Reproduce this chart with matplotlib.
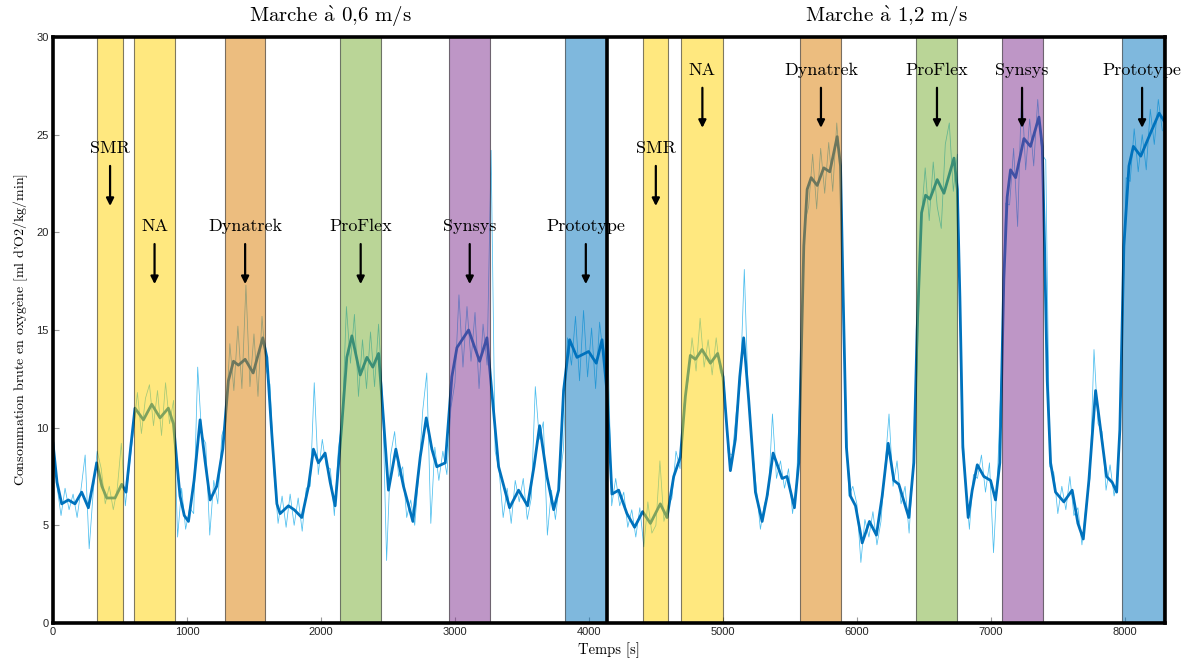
import numpy as np
import matplotlib
matplotlib.use("Agg")
import matplotlib.pyplot as plt

plt.rcParams["mathtext.fontset"] = "cm"

# ---------------- data ----------------
# smoothed VO2 curve (time s, value ml/kg/min)
t_smooth = [0, 30, 65, 114, 164, 214, 264, 300, 326, 365, 401, 463, 513, 545, 580,
            612, 675, 737, 799, 861, 899, 925, 948, 980, 1011, 1053, 1098, 1135, 1173,
            1222, 1267, 1309, 1347, 1384, 1434, 1494, 1566, 1596, 1633, 1671, 1695,
            1757, 1800, 1857, 1907, 1944, 1981, 2031, 2069, 2106, 2156, 2193, 2231,
            2293, 2343, 2387, 2430, 2467, 2504, 2559, 2616, 2686, 2741, 2786, 2828,
            2865, 2928, 2977, 3015, 3102, 3184, 3239, 3276, 3326, 3408, 3475, 3542,
            3590, 3632, 3687, 3737, 3774, 3811, 3856, 3911, 3998, 4055, 4098, 4135,
            4172, 4222, 4284, 4341, 4401, 4459, 4533, 4583, 4633, 4683, 4720, 4757,
            4795, 4844, 4907, 4961, 5001, 5031, 5056, 5093, 5126, 5155, 5193, 5243,
            5293, 5330, 5375, 5442, 5479, 5534, 5566, 5604, 5629, 5659, 5704, 5753,
            5798, 5853, 5878, 5898, 5922, 5952, 5990, 6040, 6094, 6146, 6189, 6234,
            6276, 6313, 6388, 6425, 6450, 6483, 6513, 6545, 6600, 6650, 6725, 6750,
            6769, 6791, 6831, 6861, 6899, 6948, 6998, 7035, 7067, 7097, 7122, 7147,
            7185, 7247, 7296, 7359, 7384, 7401, 7421, 7446, 7483, 7545, 7607, 7650,
            7690, 7732, 7782, 7819, 7864, 7906, 7939, 7963, 7993, 8031, 8064, 8119,
            8193, 8256, 8293]
v_smooth = [9.2, 7.2, 6.1, 6.3, 6.1, 6.7, 5.9, 7.2, 8.2, 7.0, 6.4, 6.4, 7.1, 6.7, 9.0,
            11.0, 10.4, 11.2, 10.5, 11.0, 10.2, 8.2, 6.5, 5.5, 5.2, 7.3, 10.4, 8.3, 6.3,
            7.0, 8.9, 12.4, 13.4, 13.2, 13.5, 12.8, 14.6, 13.6, 9.7, 6.1, 5.6,
            6.0, 5.8, 5.4, 7.0, 8.9, 8.2, 8.7, 7.2, 6.0, 10.2, 13.6, 14.7,
            12.7, 13.6, 13.1, 13.8, 10.4, 6.8, 8.9, 7.0, 5.2, 8.5, 10.5, 8.9,
            8.0, 8.2, 12.6, 14.1, 15.0, 13.4, 14.6, 11.8, 8.0, 5.9, 6.8, 6.0,
            8.0, 10.1, 7.5, 5.8, 6.8, 11.9, 14.5, 13.6, 13.9, 13.3, 14.5, 11.8,
            6.6, 6.8, 5.6, 4.9, 5.7, 5.1, 6.1, 5.4, 7.5, 8.5, 11.6, 13.7,
            13.5, 14.0, 13.3, 13.8, 12.6, 9.9, 7.8, 9.4, 12.6, 14.6, 11.4, 6.7,
            5.2, 6.5, 8.7, 7.4, 7.5, 5.9, 8.2, 19.3, 22.2, 22.8, 22.4, 23.3,
            23.1, 24.9, 23.4, 16.7, 9.0, 6.5, 6.0, 4.1, 5.2, 4.5, 6.5, 9.2,
            7.3, 7.1, 5.4, 8.2, 15.0, 21.0, 21.9, 21.7, 22.7, 22.0, 23.8, 22.2,
            16.7, 9.0, 5.4, 6.8, 8.1, 7.5, 7.3, 6.3, 8.2, 17.6, 21.8, 23.2,
            22.8, 24.8, 24.4, 25.9, 24.4, 19.3, 12.4, 8.2, 6.7, 6.2, 6.8, 5.1,
            4.3, 7.3, 11.9, 9.9, 7.5, 7.2, 6.7, 9.9, 19.3, 23.4, 24.4, 23.9,
            25.1, 26.1, 25.7]

# raw breath-by-breath values, one every 30 s from 0 to 8280 s
raw_step = 30
v_raw = [9.6, 7.0, 5.5, 6.9, 5.8, 6.6, 5.4, 6.9, 8.6, 3.8,
         6.7, 8.8, 7.9, 6.1, 7.0, 5.8, 6.9, 9.2, 6.0, 8.0,
         9.8, 11.8, 9.7, 11.5, 12.2, 10.1, 11.9, 9.6, 12.3, 10.2,
         11.4, 4.4, 6.9, 4.8, 5.9, 5.6, 13.1, 9.6, 9.2, 4.5,
         7.3, 6.1, 9.6, 10.3, 14.3, 11.9, 15.2, 12.0, 17.3, 12.1,
         14.8, 11.6, 15.7, 13.0, 12.2, 7.6, 5.1, 6.5, 4.9, 6.6,
         5.0, 6.4, 4.7, 6.9, 7.0, 12.3, 7.6, 9.4, 8.0, 7.9,
         5.5, 8.9, 10.5, 16.2, 13.3, 15.8, 11.6, 14.5, 12.0, 14.9,
         12.1, 15.3, 11.5, 3.2, 8.6, 9.8, 7.5, 8.0, 5.4, 6.3,
         5.0, 7.6, 10.9, 12.8, 5.1, 9.0, 7.3, 8.8, 7.6, 11.0,
         12.3, 16.8, 13.1, 16.2, 13.4, 15.9, 12.0, 15.3, 13.2, 24.2,
         8.8, 7.8, 5.4, 6.9, 5.1, 7.3, 6.2, 7.4, 5.3, 6.4,
         12.1, 9.4, 10.3, 4.5, 6.8, 5.3, 7.2, 8.9, 14.6, 13.2,
         15.7, 12.4, 16.0, 12.6, 15.1, 12.0, 15.4, 13.5, 14.9, 6.0,
         7.4, 6.0, 6.7, 4.9, 5.8, 4.4, 5.9, 3.9, 6.2, 4.6,
         5.0, 8.3, 5.2, 6.0, 6.4, 8.8, 7.9, 11.2, 12.4, 14.6,
         12.9, 15.6, 13.1, 14.5, 12.7, 14.6, 12.9, 12.3, 8.7, 8.6,
         10.8, 12.3, 18.1, 11.5, 9.0, 6.9, 4.8, 6.1, 6.6, 10.7,
         7.4, 8.3, 6.9, 7.9, 5.6, 7.2, 12.9, 20.5, 21.3, 24.0,
         21.2, 24.3, 22.0, 24.6, 22.1, 25.6, 23.0, 13.0, 6.5, 7.0,
         6.1, 3.1, 5.3, 4.4, 5.7, 4.0, 5.2, 8.0, 10.7, 7.0,
         8.3, 6.1, 7.0, 4.6, 8.0, 13.2, 20.6, 23.3, 20.6, 23.6,
         21.3, 20.2, 24.5, 25.6, 22.1, 24.0, 11.5, 7.3, 4.8, 7.6,
         7.4, 8.6, 6.7, 8.2, 3.6, 7.6, 13.0, 21.5, 21.4, 24.3,
         20.3, 27.4, 23.2, 25.8, 23.4, 26.8, 24.0, 23.7, 8.0, 7.7,
         5.6, 7.0, 5.8, 7.5, 5.5, 5.9, 4.0, 6.0, 7.4, 14.0,
         10.2, 9.8, 6.8, 8.1, 6.5, 7.6, 14.2, 22.8, 22.6, 25.3,
         23.1, 25.0, 23.2, 26.3, 24.5, 26.8, 25.2]
t_raw = np.arange(len(v_raw)) * raw_step

# condition bands (start, end in s)
band_labels = ["SMR", "NA", "Dynatrek", "ProFlex", "Synsys", "Prototype",
               "SMR", "NA", "Dynatrek", "ProFlex", "Synsys", "Prototype"]
band_start = [329, 605, 1285, 2143, 2957, 3824, 4406, 4690, 5579, 6445, 7080, 7976]
band_end = [523, 911, 1583, 2450, 3264, 4130, 4593, 5004, 5885, 6751, 7386, 8282]
label_y = [24.3, 20.3, 20.3, 20.3, 20.3, 20.3, 24.3, 28.3, 28.3, 28.3, 28.3, 28.3]
band_color_map = {"SMR": "#FFD300", "NA": "#FFD300", "Dynatrek": "#DB7D00",
                  "ProFlex": "#77AC30", "Synsys": "#7E2F8E", "Prototype": "#0072BD"}

split_time = 4137
section_titles = [r"Marche $\mathrm{\grave{a}}$ 0,6 m/s", r"Marche $\mathrm{\grave{a}}$ 1,2 m/s"]
x_max = 8300
x_ticks = [0, 1000, 2000, 3000, 4000, 5000, 6000, 7000, 8000]
y_ticks = [0, 5, 10, 15, 20, 25, 30]
x_label = "Temps [s]"
y_label = r"Consommation brute en oxyg$\mathrm{\grave{e}}$ne [ml d'O2/kg/min]"

# ---------------- plot ----------------
serif = ["cmr10", "DejaVu Serif"]
sans = ["Liberation Sans", "DejaVu Sans"]

fig = plt.figure(figsize=(11.95, 6.61), dpi=100)
ax = fig.add_axes([53 / 1195, 38 / 661, 1112 / 1195, 586 / 661])

ax.plot(t_raw, v_raw, color="#4DBEEE", lw=0.55, zorder=2)
ax.plot(t_smooth, v_smooth, color="#0072BD", lw=2.0, zorder=3,
        solid_joinstyle="round")

for lab, s, e, ly in zip(band_labels, band_start, band_end, label_y):
    ax.axvspan(s, e, facecolor=band_color_map[lab], edgecolor="black",
               alpha=0.5, lw=0.8, zorder=4)
    xc = (s + e) / 2
    ax.text(xc, ly, lab, ha="center", va="center", fontsize=13,
            family=serif, zorder=6)
    ax.annotate("", xy=(xc, ly - 2.95), xytext=(xc, ly - 0.9),
                arrowprops=dict(arrowstyle="-|>", color="black", lw=1.6,
                                mutation_scale=11, shrinkA=0, shrinkB=0),
                zorder=6)

ax.axvline(split_time, color="black", lw=2.6, zorder=7)

ax.text(split_time / 2, 1.035, section_titles[0], transform=ax.get_xaxis_transform(),
        ha="center", va="center", fontsize=15, family=serif)
ax.text((split_time + x_max) / 2, 1.035, section_titles[1],
        transform=ax.get_xaxis_transform(),
        ha="center", va="center", fontsize=15, family=serif)

ax.set_xlim(0, x_max)
ax.set_ylim(0, 30)
ax.set_xticks(x_ticks)
ax.set_yticks(y_ticks)
ax.tick_params(direction="in", length=4, width=0.8, color="#999999",
               labelsize=8, labelcolor="#262626", pad=3)
for lbl in ax.get_xticklabels() + ax.get_yticklabels():
    lbl.set_family(sans)
for sp in ax.spines.values():
    sp.set_linewidth(2.6)
    sp.set_zorder(8)

ax.set_xlabel(x_label, fontsize=10.5, family=serif, labelpad=4)
ax.set_ylabel(y_label, fontsize=10, family=serif, labelpad=5)

fig.savefig("out.png", dpi=100)
